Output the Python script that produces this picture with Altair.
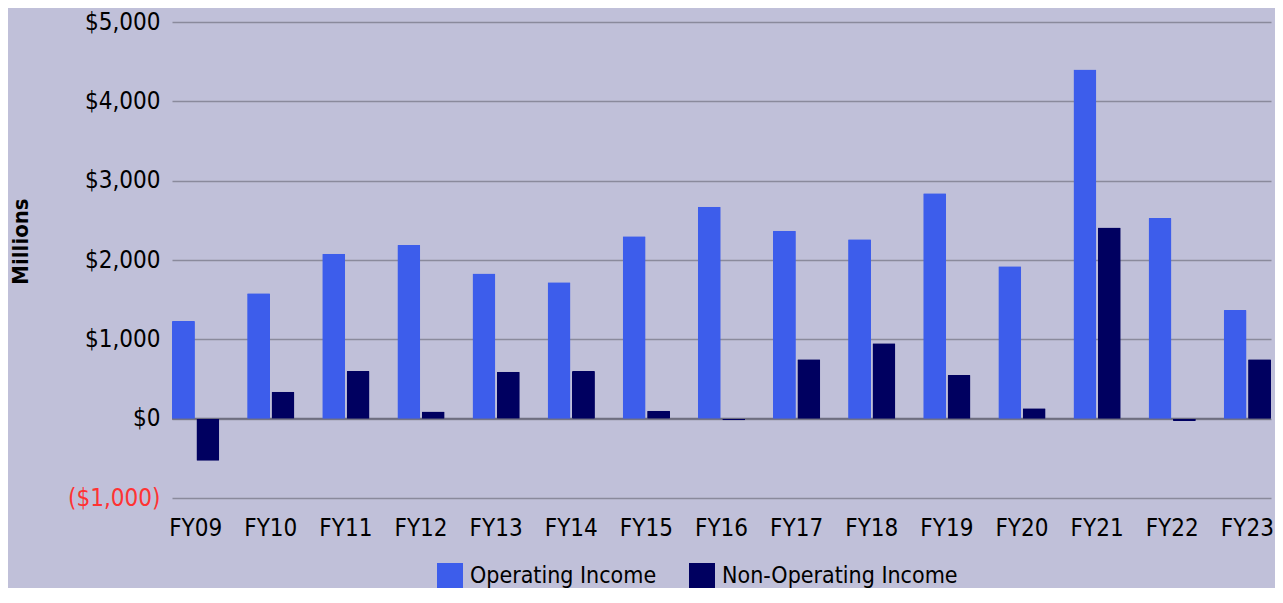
import altair as alt
import pandas as pd

years = ["FY09", "FY10", "FY11", "FY12", "FY13", "FY14", "FY15", "FY16",
         "FY17", "FY18", "FY19", "FY20", "FY21", "FY22", "FY23"]
operating = [1230, 1580, 2080, 2190, 1830, 1720, 2300, 2670,
             2370, 2260, 2840, 1920, 4400, 2530, 1370]
non_operating = [-530, 340, 600, 90, 590, 600, 100, -20,
                 750, 950, 550, 130, 2410, -30, 750]
series = ["Operating Income", "Non-Operating Income"]
colors = ["#3D5DEB", "#000060"]
y_ticks = [-1000, 0, 1000, 2000, 3000, 4000, 5000]

rows = []
for i, yr in enumerate(years):
    rows.append({"year": yr, "series": series[0], "value": operating[i]})
    rows.append({"year": yr, "series": series[1], "value": non_operating[i]})
df = pd.DataFrame(rows)

FONT = "DejaVu Sans Condensed, DejaVu Sans"

bars = alt.Chart(df).mark_bar(cornerRadius=1).encode(
    x=alt.X("year:N", sort=years,
            scale=alt.Scale(paddingInner=0.37, paddingOuter=0),
            axis=alt.Axis(title=None, labelAngle=0, labelFontSize=24,
                          labelColor="black", labelPadding=18,
                          domain=False, ticks=False, grid=False)),
    xOffset=alt.XOffset("series:N", sort=series,
                        scale=alt.Scale(paddingInner=0.06)),
    y=alt.Y("value:Q",
            scale=alt.Scale(domain=[-1000, 5000], nice=False, zero=False),
            axis=alt.Axis(values=y_ticks, title="Millions",
                          titleFontSize=22, titleFontWeight="bold",
                          titleColor="black", titleX=-152, titleY=219,
                          titleAngle=-90, titleAlign="center",
                          titleBaseline="middle",
                          labelExpr="datum.value < 0 ? '($' + format(-datum.value, ',') + ')' : '$' + format(datum.value, ',')",
                          labelColor={"condition": {"test": "datum.value < 0", "value": "#FF3333"}, "value": "black"},
                          labelFontSize=24, labelPadding=12,
                          domain=False, ticks=False,
                          gridColor="#8A8A9C", gridWidth=1.5)),
    color=alt.Color("series:N", sort=series,
                    scale=alt.Scale(domain=series, range=colors),
                    legend=alt.Legend(title=None, orient="none",
                                      legendX=265, legendY=541,
                                      direction="horizontal",
                                      symbolType="square", symbolSize=676,
                                      symbolStrokeWidth=0,
                                      labelFontSize=23, labelColor="black",
                                      labelLimit=0,
                                      labelOffset=7, columnPadding=32,
                                      padding=0)),
)

zero = alt.Chart(pd.DataFrame({"v": [0]})).mark_rule(
    color="#6E6E80", strokeWidth=2).encode(y="v:Q")

chart = alt.layer(zero, bars).properties(
    width=1099, height=476,
    autosize=alt.AutoSizeParams(type="none"),
    padding={"left": 164, "top": 14, "right": 4, "bottom": 90},
).configure(
    background="#C0C0D9", font=FONT
).configure_view(strokeWidth=0)

chart.save("out.html", embed_options={"renderer": "svg", "actions": False})
